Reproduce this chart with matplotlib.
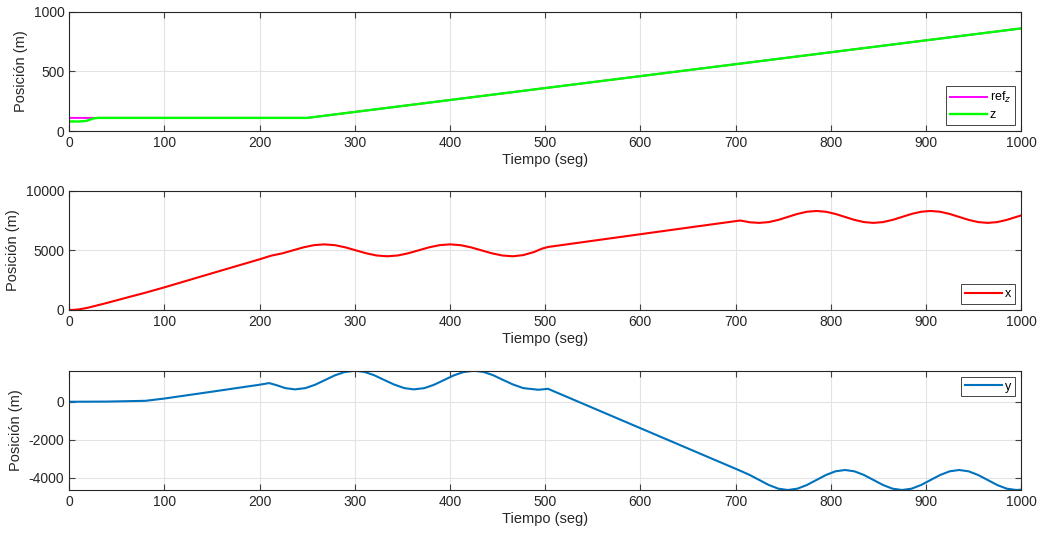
import matplotlib.pyplot as plt

plt.rcParams['font.family'] = ['Liberation Sans', 'DejaVu Sans']
plt.rcParams['axes.unicode_minus'] = False

# --- data (time in s, position in m) ---
t_ref = [0, 30, 250, 1000]
ref_z = [110, 110, 110, 860]

t_z = [0, 10, 18, 25, 30, 250, 1000]
z = [80, 80, 85, 105, 110, 110, 860]

t_x = [0, 5, 10, 15, 20, 30, 40, 60, 80, 100, 150, 200, 210,
       213, 224, 235, 246, 257, 268, 279, 290, 301, 312, 323, 334,
       345, 356, 367, 378, 389, 400, 411, 422, 433, 444, 455, 466,
       477, 488, 497, 503, 550, 600, 650, 705,
       715, 725, 735, 745, 755, 765, 775, 785, 795, 805, 815, 825,
       835, 845, 855, 865, 875, 885, 895, 905, 915, 925, 935, 945,
       955, 965, 975, 985, 995, 1000]
x = [0, 10, 50, 120, 200, 400, 600, 1030, 1450, 1900, 3080, 4250, 4500,
     4567, 4750, 5000, 5250, 5433, 5500, 5433, 5250, 5000, 4750, 4567, 4500,
     4567, 4750, 5000, 5250, 5433, 5500, 5433, 5250, 5000, 4750, 4567, 4500,
     4600, 4850, 5150, 5280, 5800, 6350, 6900, 7500,
     7350, 7300, 7367, 7550, 7800, 8050, 8233, 8300, 8233, 8050, 7800, 7550,
     7367, 7300, 7367, 7550, 7800, 8050, 8233, 8300, 8233, 8050, 7800, 7550,
     7367, 7300, 7367, 7550, 7800, 7920]

t_y = [0, 40, 80, 100, 150, 200, 210,
       218, 227, 237, 248, 258, 268, 279, 289, 300, 310, 320, 331,
       341, 352, 362, 373, 383, 393, 404, 414, 425, 435, 445, 456,
       466, 477, 493, 503, 600, 705,
       715, 725, 735, 745, 755, 765, 775, 785, 795, 805, 815, 825,
       835, 845, 855, 865, 875, 885, 895, 905, 915, 925, 935, 945,
       955, 965, 975, 985, 995, 1000]
y = [0, 10, 50, 170, 530, 895, 980,
     866, 716, 650, 716, 888, 1123, 1385, 1555, 1630, 1569, 1400, 1140,
     910, 716, 650, 716, 888, 1123, 1385, 1555, 1630, 1569, 1400, 1140,
     910, 716, 630, 680, -1385, -3620,
     -3843, -4105, -4368, -4560, -4630, -4560, -4368, -4105, -3843, -3650, -3580, -3650,
     -3843, -4105, -4368, -4560, -4630, -4560, -4368, -4105, -3843, -3650, -3580, -3650,
     -3843, -4105, -4368, -4560, -4630, -4612]

x_ticks = [0, 100, 200, 300, 400, 500, 600, 700, 800, 900, 1000]

# --- figure ---
fig = plt.figure(figsize=(10.41, 5.35), dpi=100)
left, width, height = 0.0666, 0.9142, 0.2230
ax1 = fig.add_axes([left, 0.7551, width, height])
ax2 = fig.add_axes([left, 0.4206, width, height])
ax3 = fig.add_axes([left, 0.0841, width, height])

ax1.plot(t_ref, ref_z, color=(1, 0, 1), lw=1.4, label='ref$_z$')
ax1.plot(t_z, z, color=(0, 1, 0), lw=1.7, label='z')
ax1.set_ylim(0, 1000)
ax1.set_yticks([0, 500, 1000])

ax2.plot(t_x, x, color=(1, 0, 0), lw=1.5, label='x')
ax2.set_ylim(0, 10000)
ax2.set_yticks([0, 5000, 10000])

ax3.plot(t_y, y, color=(0, 0.447, 0.741), lw=1.5, label='y')
ax3.set_ylim(-4630, 1630)
ax3.set_yticks([-4000, -2000, 0])

legend_loc = {ax1: 'lower right', ax2: 'lower right', ax3: 'upper right'}
for ax in (ax1, ax2, ax3):
    ax.set_xlim(0, 1000)
    ax.set_xticks(x_ticks)
    ax.grid(True, color='#e3e3e3', lw=0.8)
    ax.set_axisbelow(True)
    ax.tick_params(direction='in', top=True, right=True, length=4,
                   labelsize=10, colors='#404040', labelcolor='#262626')
    for s in ax.spines.values():
        s.set_color('#262626')
        s.set_linewidth(0.8)
    ax.set_xlabel('Tiempo (seg)', fontsize=10.5, color='#262626', labelpad=2)
    ax.set_ylabel('Posición (m)', fontsize=10.5, color='#262626', labelpad=4)
    leg = ax.legend(loc=legend_loc[ax], fontsize=9, fancybox=False,
                    handlelength=3, handletextpad=0.2, borderpad=0.3,
                    labelspacing=0.3, borderaxespad=0.5, framealpha=1)
    leg.get_frame().set_edgecolor('#262626')
    leg.get_frame().set_linewidth(0.6)

fig.savefig('out.png', dpi=100)
